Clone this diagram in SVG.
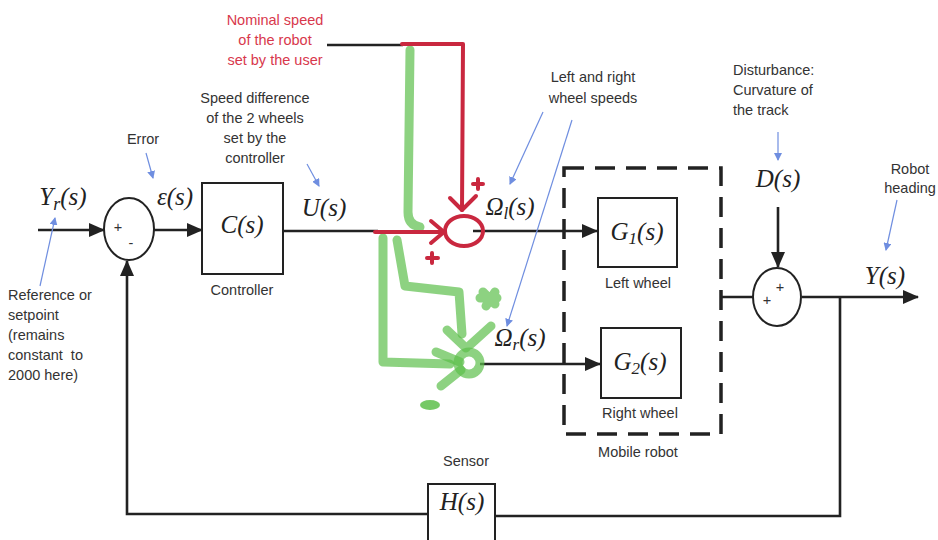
<svg xmlns="http://www.w3.org/2000/svg" width="938" height="540" viewBox="0 0 938 540">
<style>
.lbl{font-family:"Liberation Sans","DejaVu Sans",sans-serif;font-size:14.5px;fill:#333;text-anchor:middle}
.lbs{font-family:"Liberation Sans","DejaVu Sans",sans-serif;font-size:14.5px;fill:#333;text-anchor:start}
.red{fill:#d8384c}
.math{font-family:"Liberation Serif","DejaVu Serif",serif;font-style:italic;font-size:25px;fill:#222;text-anchor:middle}
.ln{stroke:#222;stroke-width:2.6;fill:none}
.box{stroke:#222;stroke-width:2;fill:#fff}
.blue{stroke:#6f8ee0;stroke-width:1.2;fill:none}
.grn{stroke:#5dbf4b;stroke-opacity:0.7;stroke-width:9;fill:none;stroke-linecap:round;stroke-linejoin:round}
.rd{stroke:#c9283f;stroke-width:4;fill:none;stroke-linecap:round;stroke-linejoin:round}
</style>
<defs>
<marker id="ah" markerWidth="16" markerHeight="14" refX="15" refY="7" orient="auto" markerUnits="userSpaceOnUse"><path d="M0,0 L16,7 L0,14 Z" fill="#222"/></marker>
<marker id="bh" markerWidth="8" markerHeight="8" refX="7" refY="4" orient="auto" markerUnits="userSpaceOnUse"><path d="M0,0 L8,4 L0,8 Z" fill="#6f8ee0"/></marker>
</defs>
<rect width="938" height="540" fill="#fff"/>

<g id="connectors">
<line class="ln" x1="38" y1="230" x2="104" y2="230" marker-end="url(#ah)"/>
<line class="ln" x1="154" y1="230" x2="202" y2="230" marker-end="url(#ah)"/>
<line class="ln" x1="283" y1="231" x2="378" y2="231"/>
<line class="ln" x1="327" y1="45" x2="403" y2="45"/>
<line class="ln" x1="473" y1="231" x2="597" y2="231" marker-end="url(#ah)"/>
<line class="ln" x1="480" y1="364" x2="600" y2="364" marker-end="url(#ah)"/>
<line class="ln" x1="720" y1="297" x2="753" y2="297"/>
<line class="ln" x1="778" y1="207" x2="778" y2="267" marker-end="url(#ah)"/>
<line class="ln" x1="802" y1="297" x2="918" y2="297" marker-end="url(#ah)"/>
<polyline class="ln" points="840,297 840,516 495,516"/>
<polyline class="ln" points="428,514 127,514 127,261" marker-end="url(#ah)"/>
<line class="blue" x1="146" y1="153" x2="153" y2="178" marker-end="url(#bh)"/>
<line class="blue" x1="307" y1="164" x2="319" y2="186" marker-end="url(#bh)"/>
<line class="blue" x1="40" y1="286" x2="55" y2="218" marker-end="url(#bh)"/>
<line class="blue" x1="543" y1="112" x2="510" y2="184" marker-end="url(#bh)"/>
<line class="blue" x1="572" y1="120" x2="507" y2="326" marker-end="url(#bh)"/>
<line class="blue" x1="778" y1="132" x2="778" y2="160" marker-end="url(#bh)"/>
<line class="blue" x1="897" y1="200" x2="886" y2="250" marker-end="url(#bh)"/>
</g>

<g id="handdrawn">
<path class="grn" d="M410,50 L408,212 Q408,225 420,227"/>
<path class="grn" d="M383,238 L383,362 L450,364"/>
<path class="grn" d="M397,240 L405,286 L459,292 L462,334"/>
<circle class="grn" cx="469" cy="363" r="11" stroke-width="8"/>
<path class="grn" d="M447,330 L466,348 M491,326 L470,345 M436,352 L460,362 M441,386 L461,370" stroke-width="7"/>
<path class="grn" d="M483,292 L495,304 M486,306 L495,292 M480,298 L497,298" stroke-width="7"/>
<ellipse cx="430" cy="405" rx="10" ry="5" fill="#5dbf4b" fill-opacity="0.85"/>
<path class="rd" d="M402,44 L463,44 L462,210"/>
<path class="rd" d="M450,198 L462,210 L476,196" stroke-width="3"/>
<path class="rd" d="M375,232 L445,232"/>
<path class="rd" d="M431,221 L444,232 L431,243" stroke-width="3"/>
<ellipse class="rd" cx="464" cy="231" rx="19" ry="15" stroke-width="3.5"/>
<path class="rd" d="M473,184 L483,184 M478,179 L478,189 M427,258 L438,258 M432,253 L432,263" stroke-width="3.5"/>
</g>

<g id="sum1">
<ellipse class="box" cx="129" cy="229" rx="25" ry="31"/>
<text class="lbl" x="118" y="232" font-size="12">+</text>
<text class="lbl" x="131" y="248" font-size="13">-</text>
</g>
<g id="controller">
<rect class="box" x="202" y="183" width="81" height="91"/>
<text class="math" x="242" y="233">C(s)</text>
<text class="lbl" x="242" y="295">Controller</text>
</g>
<g id="mobile-robot">
<rect x="564" y="168" width="157" height="266" fill="none" stroke="#222" stroke-width="3.5" stroke-dasharray="20,11"/>
<text class="lbl" x="638" y="457">Mobile robot</text>
</g>
<g id="g1">
<rect class="box" x="598" y="198" width="79" height="69"/>
<text class="math" x="637" y="240">G<tspan font-size="17" dy="4">1</tspan><tspan dy="-4">(s)</tspan></text>
<text class="lbl" x="638" y="288">Left wheel</text>
</g>
<g id="g2">
<rect class="box" x="601" y="328" width="80" height="70"/>
<text class="math" x="640" y="370">G<tspan font-size="17" dy="4">2</tspan><tspan dy="-4">(s)</tspan></text>
<text class="lbl" x="640" y="418">Right wheel</text>
</g>
<g id="sum2">
<ellipse class="box" cx="777" cy="297" rx="24" ry="29"/>
<text class="lbl" x="780" y="292" font-size="12">+</text>
<text class="lbl" x="767" y="305" font-size="12">+</text>
</g>
<g id="sensor">
<rect class="box" x="428" y="484" width="67" height="62"/>
<text class="math" x="462" y="510">H(s)</text>
<text class="lbl" x="466" y="466">Sensor</text>
</g>

<g id="labels">
<text class="math" x="63" y="205">Y<tspan font-size="18" dy="5">r</tspan><tspan dy="-5">(s)</tspan></text>
<text class="math" x="175" y="205">ε(s)</text>
<text class="math" x="324" y="216">U(s)</text>
<text class="math" x="510" y="215">Ω<tspan font-size="17" dy="4">l</tspan><tspan dy="-4">(s)</tspan></text>
<text class="math" x="520" y="346">Ω<tspan font-size="17" dy="4">r</tspan><tspan dy="-4">(s)</tspan></text>
<text class="math" x="778" y="187">D(s)</text>
<text class="math" x="885" y="284">Y(s)</text>
<text class="lbl" x="143" y="144">Error</text>
<text class="lbl" x="255" y="103">Speed difference</text>
<text class="lbl" x="255" y="123">of the 2 wheels</text>
<text class="lbl" x="255" y="143">set by the</text>
<text class="lbl" x="255" y="163">controller</text>
<text class="lbl red" x="275" y="25">Nominal speed</text>
<text class="lbl red" x="275" y="45">of the robot</text>
<text class="lbl red" x="275" y="65">set by the user</text>
<text class="lbl" x="593" y="82">Left and right</text>
<text class="lbl" x="593" y="103">wheel speeds</text>
<text class="lbs" x="733" y="75">Disturbance:</text>
<text class="lbs" x="733" y="95">Curvature of</text>
<text class="lbs" x="733" y="115">the track</text>
<text class="lbl" x="910" y="174">Robot</text>
<text class="lbl" x="910" y="193">heading</text>
<text class="lbs" x="8" y="300">Reference or</text>
<text class="lbs" x="8" y="320">setpoint</text>
<text class="lbs" x="8" y="340">(remains</text>
<text class="lbs" x="8" y="360" xml:space="preserve">constant  to</text>
<text class="lbs" x="8" y="380">2000 here)</text>
</g>
</svg>
